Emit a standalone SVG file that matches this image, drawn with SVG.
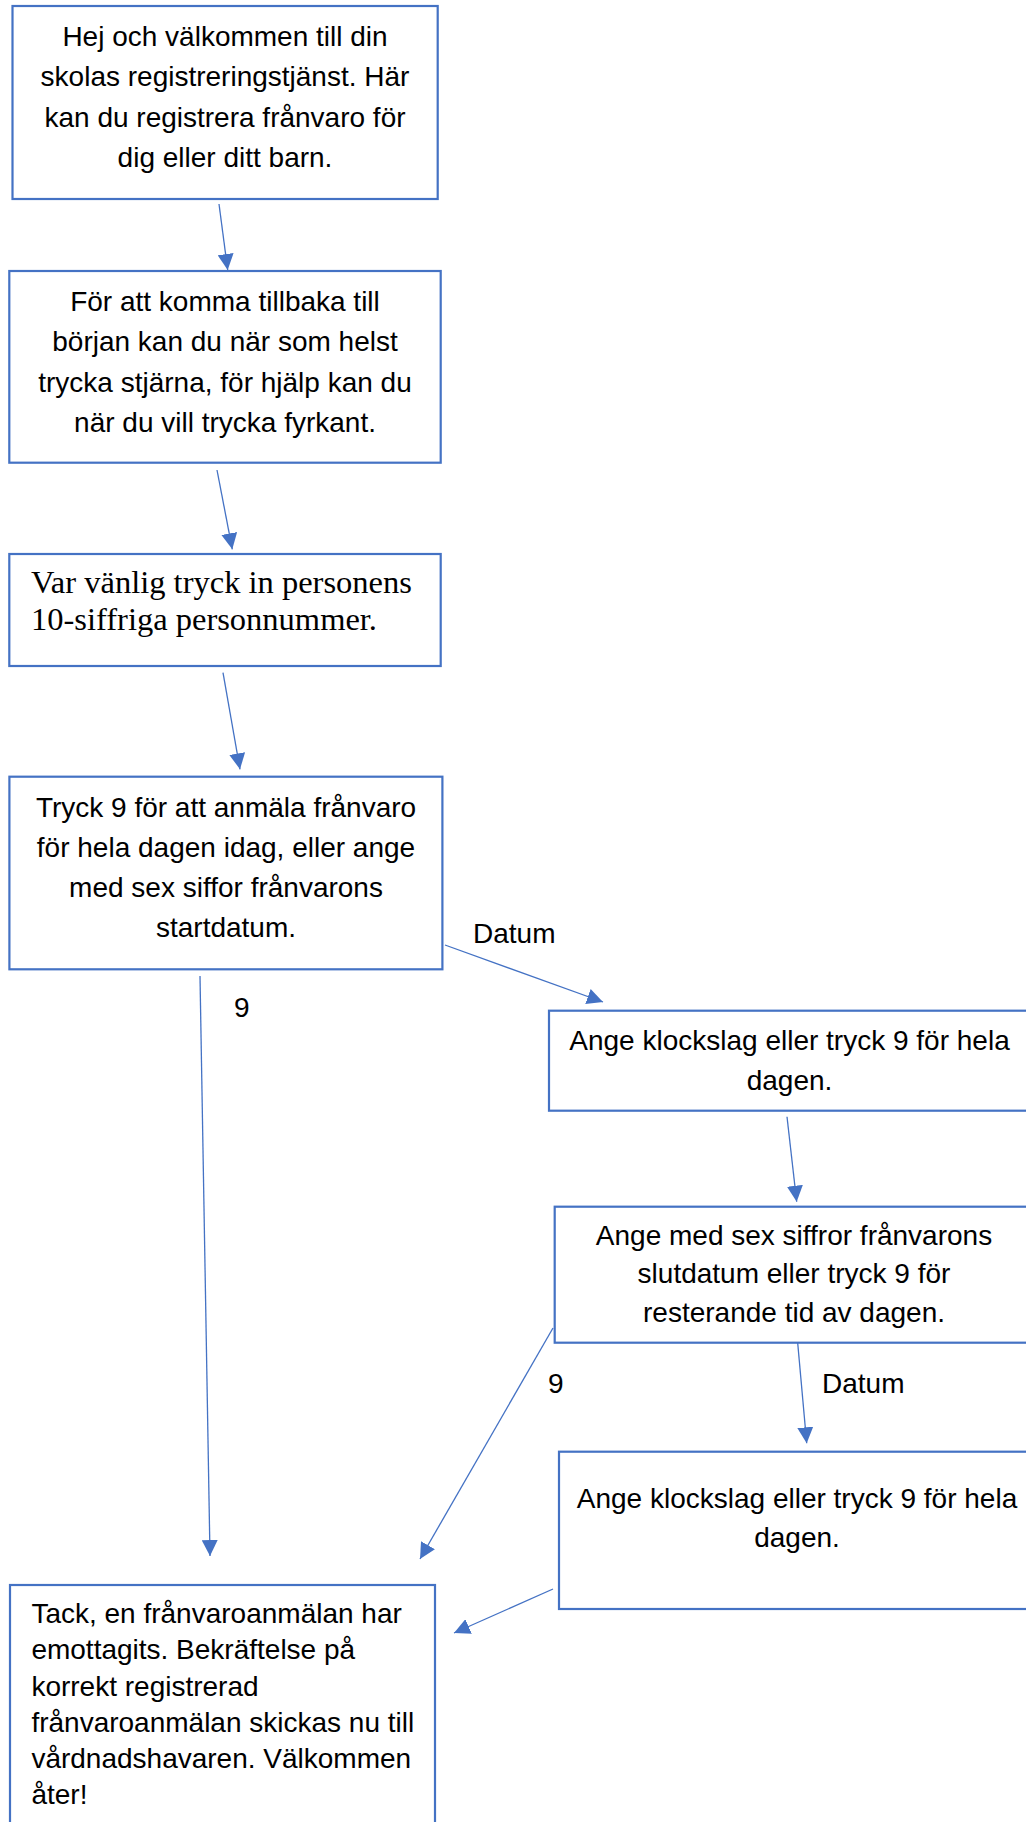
<svg xmlns="http://www.w3.org/2000/svg" width="1026" height="1822" viewBox="0 0 1026 1822">
<style>
.box{fill:#fff;stroke:#4472C4;stroke-width:2.2}
.t{font-family:"Liberation Sans",Arial,sans-serif;font-size:28px;fill:#000}
.c{text-anchor:middle}
.s{font-family:"Liberation Serif","Times New Roman",serif;font-size:32.5px;fill:#000}
.con{fill:none;stroke:#4472C4;stroke-width:1.3}
</style>
<defs>
<marker id="ah" markerUnits="userSpaceOnUse" markerWidth="16" markerHeight="16" refX="15" refY="7.5" orient="auto" viewBox="0 0 15 15">
<path d="M0,0 L15,7.5 L0,15 z" fill="#4472C4"/>
</marker>
</defs>
<rect width="1026" height="1822" fill="#fff"/>
<g id="connectors">
<line class="con" x1="219" y1="204" x2="227.7" y2="270" marker-end="url(#ah)"/>
<line class="con" x1="217" y1="470" x2="232.3" y2="549.3" marker-end="url(#ah)"/>
<line class="con" x1="223" y1="672.7" x2="240" y2="769.3" marker-end="url(#ah)"/>
<line class="con" x1="445" y1="945" x2="603" y2="1002" marker-end="url(#ah)"/>
<line class="con" x1="200" y1="976" x2="210" y2="1556" marker-end="url(#ah)"/>
<line class="con" x1="787" y1="1116.7" x2="796.7" y2="1201.7" marker-end="url(#ah)"/>
<line class="con" x1="553" y1="1328" x2="420" y2="1559" marker-end="url(#ah)"/>
<line class="con" x1="797.7" y1="1343" x2="806.7" y2="1443.3" marker-end="url(#ah)"/>
<line class="con" x1="553" y1="1589" x2="454" y2="1633" marker-end="url(#ah)"/>
<text class="t" x="473" y="943">Datum</text>
<text class="t" x="234" y="1017">9</text>
<text class="t" x="548" y="1392.7">9</text>
<text class="t" x="822" y="1392.7">Datum</text>
</g>
<g id="n1">
<rect class="box" x="12.5" y="6" width="425.2" height="193"/>
<text class="t c" x="225" y="45.7">Hej och välkommen till din</text>
<text class="t c" x="225" y="86.3">skolas registreringstjänst. Här</text>
<text class="t c" x="225" y="126.6">kan du registrera frånvaro för</text>
<text class="t c" x="225" y="166.7">dig eller ditt barn.</text>
</g>
<g id="n2">
<rect class="box" x="9.3" y="271" width="431.4" height="191.7"/>
<text class="t c" x="225" y="310.7">För att komma tillbaka till</text>
<text class="t c" x="225" y="351.3">början kan du när som helst</text>
<text class="t c" x="225" y="391.7">trycka stjärna, för hjälp kan du</text>
<text class="t c" x="225" y="432.3">när du vill trycka fyrkant.</text>
</g>
<g id="n3">
<rect class="box" x="9.3" y="554" width="431.4" height="112"/>
<text class="s" x="31" y="593.3">Var vänlig tryck in personens</text>
<text class="s" x="31" y="630">10-siffriga personnummer.</text>
</g>
<g id="n4">
<rect class="box" x="9.4" y="776.7" width="433" height="192.6"/>
<text class="t c" x="226" y="817">Tryck 9 för att anmäla frånvaro</text>
<text class="t c" x="226" y="857">för hela dagen idag, eller ange</text>
<text class="t c" x="226" y="897">med sex siffor frånvarons</text>
<text class="t c" x="226" y="937">startdatum.</text>
</g>
<g id="n5">
<rect class="box" x="549" y="1010.7" width="490" height="100"/>
<text class="t c" x="789.5" y="1050">Ange klockslag eller tryck 9 för hela</text>
<text class="t c" x="789.5" y="1090">dagen.</text>
</g>
<g id="n6">
<rect class="box" x="554.7" y="1206.7" width="490" height="136"/>
<text class="t c" x="794" y="1245">Ange med sex siffror frånvarons</text>
<text class="t c" x="794" y="1283.3">slutdatum eller tryck 9 för</text>
<text class="t c" x="794" y="1321.7">resterande tid av dagen.</text>
</g>
<g id="n7">
<rect class="box" x="559" y="1451.7" width="490" height="157.3"/>
<text class="t c" x="797" y="1508.3">Ange klockslag eller tryck 9 för hela</text>
<text class="t c" x="797" y="1546.7">dagen.</text>
</g>
<g id="n8">
<rect class="box" x="10" y="1585" width="425" height="260"/>
<text class="t" x="31.4" y="1623.3">Tack, en frånvaroanmälan har</text>
<text class="t" x="31.4" y="1659.3">emottagits. Bekräftelse på</text>
<text class="t" x="31.4" y="1695.5">korrekt registrerad</text>
<text class="t" x="31.4" y="1731.7">frånvaroanmälan skickas nu till</text>
<text class="t" x="31.4" y="1767.8">vårdnadshavaren. Välkommen</text>
<text class="t" x="31.4" y="1804">åter!</text>
</g>
</svg>
